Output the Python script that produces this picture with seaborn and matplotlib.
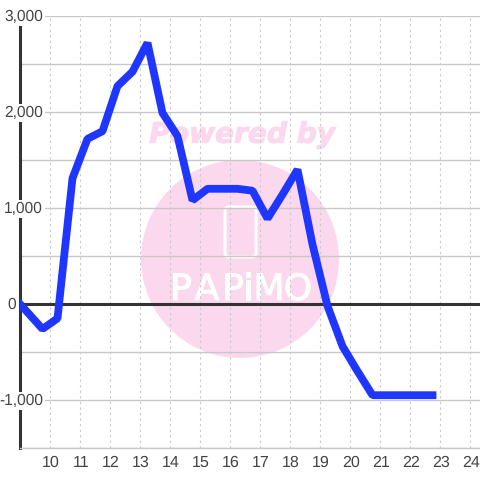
import matplotlib
matplotlib.use("Agg")
import matplotlib.pyplot as plt
from matplotlib.patches import Circle, FancyBboxPatch
from matplotlib.transforms import ScaledTranslation
import matplotlib.patheffects as pe
import pandas as pd
import seaborn as sns

hours = [9.0, 9.75, 10.25, 10.75, 11.25, 11.75, 12.25, 12.75, 13.25, 13.75, 14.25, 14.75,
         15.25, 15.75, 16.25, 16.75, 17.25, 17.75, 18.25, 18.75, 19.25, 19.75, 20.25,
         20.75, 21.25, 21.75, 22.25, 22.75]
balance = [0, -260, -150, 1310, 1720, 1800, 2270, 2420, 2720, 1990, 1750, 1080,
           1200, 1200, 1200, 1180, 890, 1140, 1400, 620, -20, -440, -700,
           -950, -950, -950, -950, -950]

y_major = [3000, 2000, 1000, 0, -1000]
y_minor = [2500, 1500, 500, -500, -1500]
y_label_right = [43, 43, 43, 16, 43]
x_ticks = list(range(10, 25))
logo_letters = ["P", "A", "P", "i", "M", "O"]
logo_centres = [181, 207, 233, 248, 269, 298]

LABEL_FONT = "Liberation Sans"
PINK = "#fcd8ee"
BLUE = "#1f36ff"
GRID = "#c8c8c8"
DARK = "#333333"
TEXT = "#444444"


def fx(px):
    return px / 480


def fy(py):
    return 1 - py / 480


def draw_watermark(fig, ax):
    trans = fig.transFigure
    ax.add_patch(Circle((fx(240), fy(259)), 99 / 480, transform=trans, color=PINK,
                        lw=0, clip_on=False, zorder=0.1))
    ax.text(fx(242), fy(135), "Powered by", transform=trans, color=PINK, fontsize=20.2,
            family="DejaVu Sans", weight="bold", style="italic",
            ha="center", va="center", zorder=0.2,
            path_effects=[pe.withStroke(linewidth=0.8, foreground=PINK)])
    ax.add_patch(FancyBboxPatch((fx(225), fy(257)), 31 / 480, 50 / 480,
                                boxstyle="round,pad=0,rounding_size=0.008",
                                transform=trans, fc="none", ec="white", lw=2.2,
                                clip_on=False, zorder=0.2))
    for letter, centre in zip(logo_letters, logo_centres):
        ax.text(fx(centre), fy(290), letter, transform=trans, color="white", fontsize=26,
                family="Liberation Sans Narrow", ha="center", va="center", zorder=0.2,
                path_effects=[pe.withStroke(linewidth=0.7, foreground="white")])


sns.set_style("white")
plt.rcParams["text.hinting"] = "no_hinting"
fig = plt.figure(figsize=(4.8, 4.8), dpi=100)
ax = fig.add_axes([fx(20), fy(448), (480 - 20) / 480, (448 - 16) / 480])
ax.patch.set_visible(False)

df = pd.DataFrame({"hour": hours, "balance": balance})
sns.lineplot(data=df, x="hour", y="balance", ax=ax, color=BLUE, lw=5.6, sort=False,
             solid_joinstyle="bevel", solid_capstyle="projecting", zorder=3)

ax.set_xlim(9, 9 + 460 / 30)
ax.set_ylim(-1500, 3000)
ax.set_xlabel("")
ax.set_ylabel("")
ax.set_axisbelow(True)
ax.set_xticks(x_ticks)
ax.set_yticks(y_major + y_minor)
ax.set_yticklabels([])
ax.tick_params(left=False, bottom=False, colors=TEXT, pad=1.5)
ax.set_xticklabels([str(h) for h in x_ticks], family=LABEL_FONT, color=TEXT, fontsize=11.5)
shift = ScaledTranslation(1 / 100, 0, fig.dpi_scale_trans)
for label in ax.get_xticklabels():
    label.set_transform(label.get_transform() + shift)
ax.grid(axis="y", color=GRID, lw=1, ls="-")
ax.grid(axis="x", color=GRID, lw=0.8, ls=(0, (2, 3)))

for side in ["top", "right"]:
    ax.spines[side].set_visible(False)
ax.spines["bottom"].set_color(GRID)
ax.spines["bottom"].set_linewidth(1)
ax.spines["left"].set_color(DARK)
ax.spines["left"].set_linewidth(2.2)

ax.axhline(0, color=DARK, lw=2.2, zorder=1.5)

for value, right in zip(y_major, y_label_right):
    ax.annotate(f"{value:,}", xy=(0, value), xycoords=ax.get_yaxis_transform(),
                xytext=((right - 20) * 0.72, -0.8), textcoords="offset points", ha="right", va="center",
                family=LABEL_FONT, fontsize=11.2, color=TEXT, annotation_clip=False,
                zorder=5 if value != 0 else 1, bbox=dict(fc="white", ec="none", pad=1.2))

draw_watermark(fig, ax)

fig.savefig("out.png", dpi=100)
